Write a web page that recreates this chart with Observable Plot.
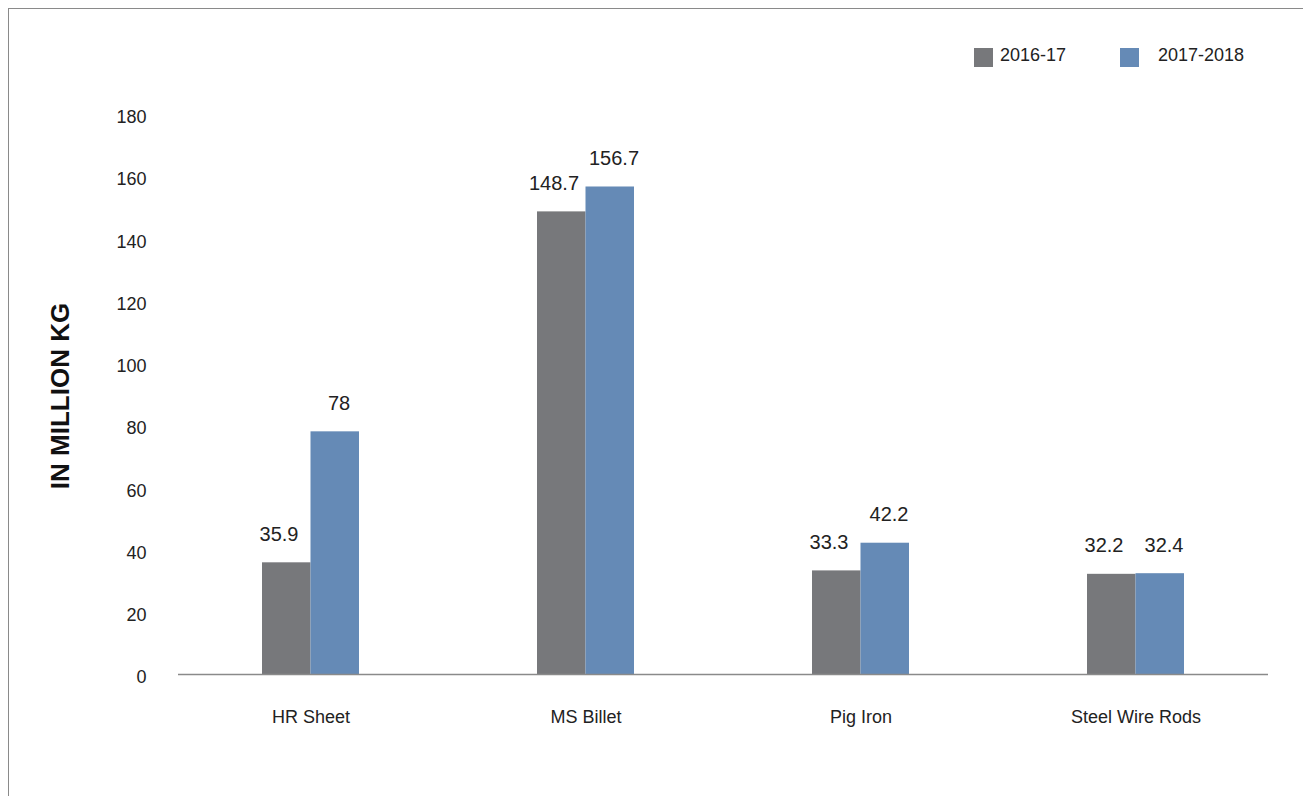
<!DOCTYPE html>
<html>
<head>
<meta charset="utf-8">
<script src="https://cdn.jsdelivr.net/npm/d3@7"></script>
<script src="https://cdn.jsdelivr.net/npm/@observablehq/plot@0.6"></script>
<style>
  html, body { margin: 0; padding: 0; background: #fff; }
  #wrap { position: relative; width: 1303px; height: 796px; overflow: hidden; font-family: "Liberation Sans", Arial, sans-serif; color: #222; }
  #frame { position: absolute; left: 8px; top: 8px; width: 1400px; height: 900px; border-left: 1.5px solid #8a8a8a; border-top: 1.5px solid #8a8a8a; }
  #chart { position: absolute; left: 0; top: 0; }
  .sw { position: absolute; width: 19px; height: 19px; top: 48px; }
  .lg { position: absolute; top: 45px; font-size: 18px; line-height: 20px; white-space: nowrap; }
  #ytitle { position: absolute; left: 60px; top: 396px; transform: translate(-50%, -50%) rotate(-90deg); white-space: nowrap; font-weight: bold; font-size: 26px; color: #111; }
</style>
</head>
<body>
<div id="wrap">
  <div id="frame"></div>
  <div id="chart"></div>
  <div id="ytitle">IN MILLION KG</div>
</div>
<script>
// Products and yearly volumes (million kg)
const products = ["HR Sheet", "MS Billet", "Pig Iron", "Steel Wire Rods"];
const years = ["2016-17", "2017-2018"];
const values2016 = [35.9, 148.7, 33.3, 32.2];
const values2017 = [78, 156.7, 42.2, 32.4];
const yTicks = [0, 20, 40, 60, 80, 100, 120, 140, 160, 180];
const colors = ["#77787b", "#658ab6"];

const rows2016 = products.map((p, i) => ({product: p, value: values2016[i]}));
const rows2017 = products.map((p, i) => ({product: p, value: values2017[i]}));

const fmt = d => String(d.value);

const chart = Plot.plot({
  width: 1303,
  height: 796,
  marginTop: 114,
  marginBottom: 122,
  marginLeft: 178,
  marginRight: 35,
  style: {fontFamily: "Liberation Sans, Arial, sans-serif", fontSize: "18px", color: "#222", background: "transparent"},
  x: {domain: products, paddingInner: 0.6473, paddingOuter: 0.3042, axis: null},
  y: {domain: [0, 180], axis: null},
  marks: [
    Plot.axisY({ticks: yTicks, tickSize: 0, tickPadding: 32, label: null, fontSize: 18, dy: 3}),
    Plot.axisX({anchor: "bottom", tickSize: 0, tickPadding: 36, label: null, fontSize: 18}),
    // each band holds two half-width bars: 2016-17 on the left, 2017-2018 on the right
    Plot.barY(rows2016, {x: "product", y: "value", fill: colors[0], insetRight: 48.5}),
    Plot.barY(rows2017, {x: "product", y: "value", fill: colors[1], insetLeft: 48.5}),
    Plot.text(rows2016, {x: "product", y: "value", text: fmt, dx: -32, dy: -22, lineAnchor: "bottom", fontSize: 20, fill: "#222"}),
    Plot.text(rows2017, {x: "product", y: "value", text: fmt, dx: 28, dy: -22, lineAnchor: "bottom", fontSize: 20, fill: "#222"}),
    Plot.ruleY([0], {stroke: "#8a8a8a", strokeWidth: 1.5})
  ]
});
document.getElementById("chart").appendChild(chart);

// legend: swatch + label for each year
const wrap = document.getElementById("wrap");
const swatchLeft = [974, 1120];
const labelLeft = [1000, 1158];
years.forEach((y, i) => {
  const sw = document.createElement("div");
  sw.className = "sw";
  sw.style.left = swatchLeft[i] + "px";
  sw.style.background = colors[i];
  const t = document.createElement("div");
  t.className = "lg";
  t.style.left = labelLeft[i] + "px";
  t.textContent = y;
  wrap.appendChild(sw);
  wrap.appendChild(t);
});
</script>
</body>
</html>
